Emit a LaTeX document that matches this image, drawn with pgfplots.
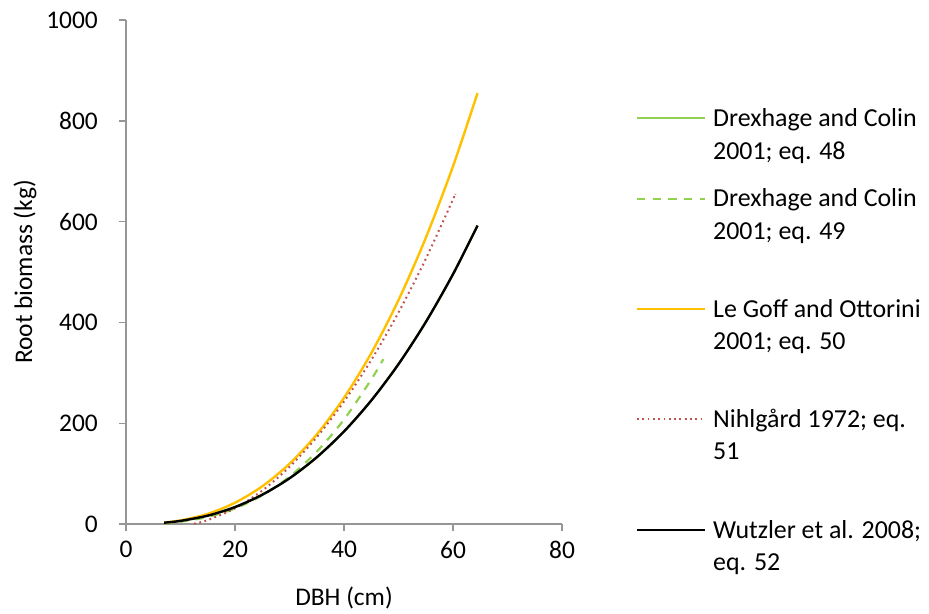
\documentclass[border=0pt]{standalone}
\usepackage{fontspec}
\setmainfont{Carlito}
\usepackage{pgfplots}
\pgfplotsset{compat=1.18}

\definecolor{legoff}{HTML}{FFC000}
\definecolor{drex}{HTML}{92D050}
\definecolor{nihl}{HTML}{C0504D}
\definecolor{axisgray}{RGB}{150,150,150}

\tikzset{
  eqA/.style={drex, line width=2.2bp},
  eqB/.style={drex, line width=2.2bp, dash pattern=on 8.3bp off 7.4bp},
  eqC/.style={legoff, line width=2.4bp},
  eqD/.style={nihl, line width=2bp, dash pattern=on 1.8bp off 3.5bp},
  eqE/.style={black, line width=2.4bp},
  legtext/.style={anchor=base west, inner sep=0pt, font=\fontsize{26}{32}\selectfont},
}

\begin{document}
\begin{tikzpicture}[x=1bp,y=1bp]
\useasboundingbox (0,0) rectangle (929,-614);
\begin{axis}[
  at={(126bp,-524bp)}, anchor=south west,
  scale only axis, width=436bp, height=504bp,
  xmin=0, xmax=80, ymin=0, ymax=1000,
  xtick={0,20,...,80}, ytick={0,200,...,1000},
  axis lines*=left,
  tick align=outside, major tick length=7bp,
  axis line style={axisgray, line width=1.4bp},
  tick style={axisgray, line width=1.4bp},
  /pgf/number format/assume math mode=true,
  /pgf/number format/set thousands separator={},
  ticklabel style={font=\fontsize{25.5}{30}\selectfont, text=black},
  xticklabel style={anchor=north, inner sep=0pt, yshift=-10bp},
  yticklabel style={anchor=east, inner sep=0pt, xshift=-21bp},
  xlabel={DBH (cm)}, ylabel={Root biomass (kg)},
  label style={font=\fontsize{25.5}{30}\selectfont},
  xlabel style={at={(axis description cs:0.5,-0.1468)}, anchor=center},
  ylabel style={at={(axis description cs:-0.2317,0.5)}, anchor=center},
  clip=false,
]
% Drexhage and Colin 2001; eq. 48
\addplot[eqA, smooth] coordinates {
  (7,2.6) (10,6.2) (15,16.6) (20,33.6) (25,58.1) (30,90.7) (35,132.4)
  (40,183.6) (45,245.1) (50,317.2) (55,400.6) (60,495.7) (64.5,592)
};
% Drexhage and Colin 2001; eq. 49
\addplot[eqB, smooth] coordinates {
  (7,1.7) (10,4.6) (15,13.9) (20,30.7) (25,56.8) (30,93.8) (35,143.5)
  (40,207.3) (45,286.7) (47.2,327)
};
% Le Goff and Ottorini 2001; eq. 50
\addplot[eqC, smooth] coordinates {
  (7,2.8) (10,7.1) (15,20.1) (20,42.2) (25,74.8) (30,119.5) (35,177.7)
  (40,250.4) (45,339.0) (50,444.3) (55,567.6) (60,709.8) (64.5,855)
};
% Nihlgard 1972; eq. 51
\addplot[eqD, smooth] coordinates {
  (12.5,0.5) (15,7.8) (20,31.1) (25,66.3) (30,113.3) (35,172.2)
  (40,242.9) (45,325.4) (50,419.8) (55,526.0) (60,644.0) (60.4,653.9)
};
% Wutzler et al. 2008; eq. 52
\addplot[eqE, smooth] coordinates {
  (7,2.6) (10,6.2) (15,16.6) (20,33.6) (25,58.1) (30,90.7) (35,132.4)
  (40,183.6) (45,245.1) (50,317.2) (55,400.6) (60,495.7) (64.5,592)
};
\end{axis}

% legend
\draw[eqA] (637,-118.4) -- (705,-118.4);
\node[legtext] at (713,-126.7) {Drexhage and Colin};
\node[legtext] at (713,-159.2) {2001; eq. 48};

\draw[eqB] (637,-199) -- (705,-199);
\node[legtext] at (713,-207) {Drexhage and Colin};
\node[legtext] at (713,-239.5) {2001; eq. 49};

\draw[eqC] (637,-309) -- (705,-309);
\node[legtext] at (713,-317) {Le Goff and Ottorini};
\node[legtext] at (713,-349.5) {2001; eq. 50};

\draw[eqD] (637,-419) -- (705,-419);
\node[legtext] at (713,-427) {Nihlgård 1972; eq.};
\node[legtext] at (713,-459.5) {51};

\draw[eqE] (637,-530) -- (705,-530);
\node[legtext] at (713,-538) {Wutzler et al. 2008;};
\node[legtext] at (713,-570.5) {eq. 52};
\end{tikzpicture}
\end{document}
